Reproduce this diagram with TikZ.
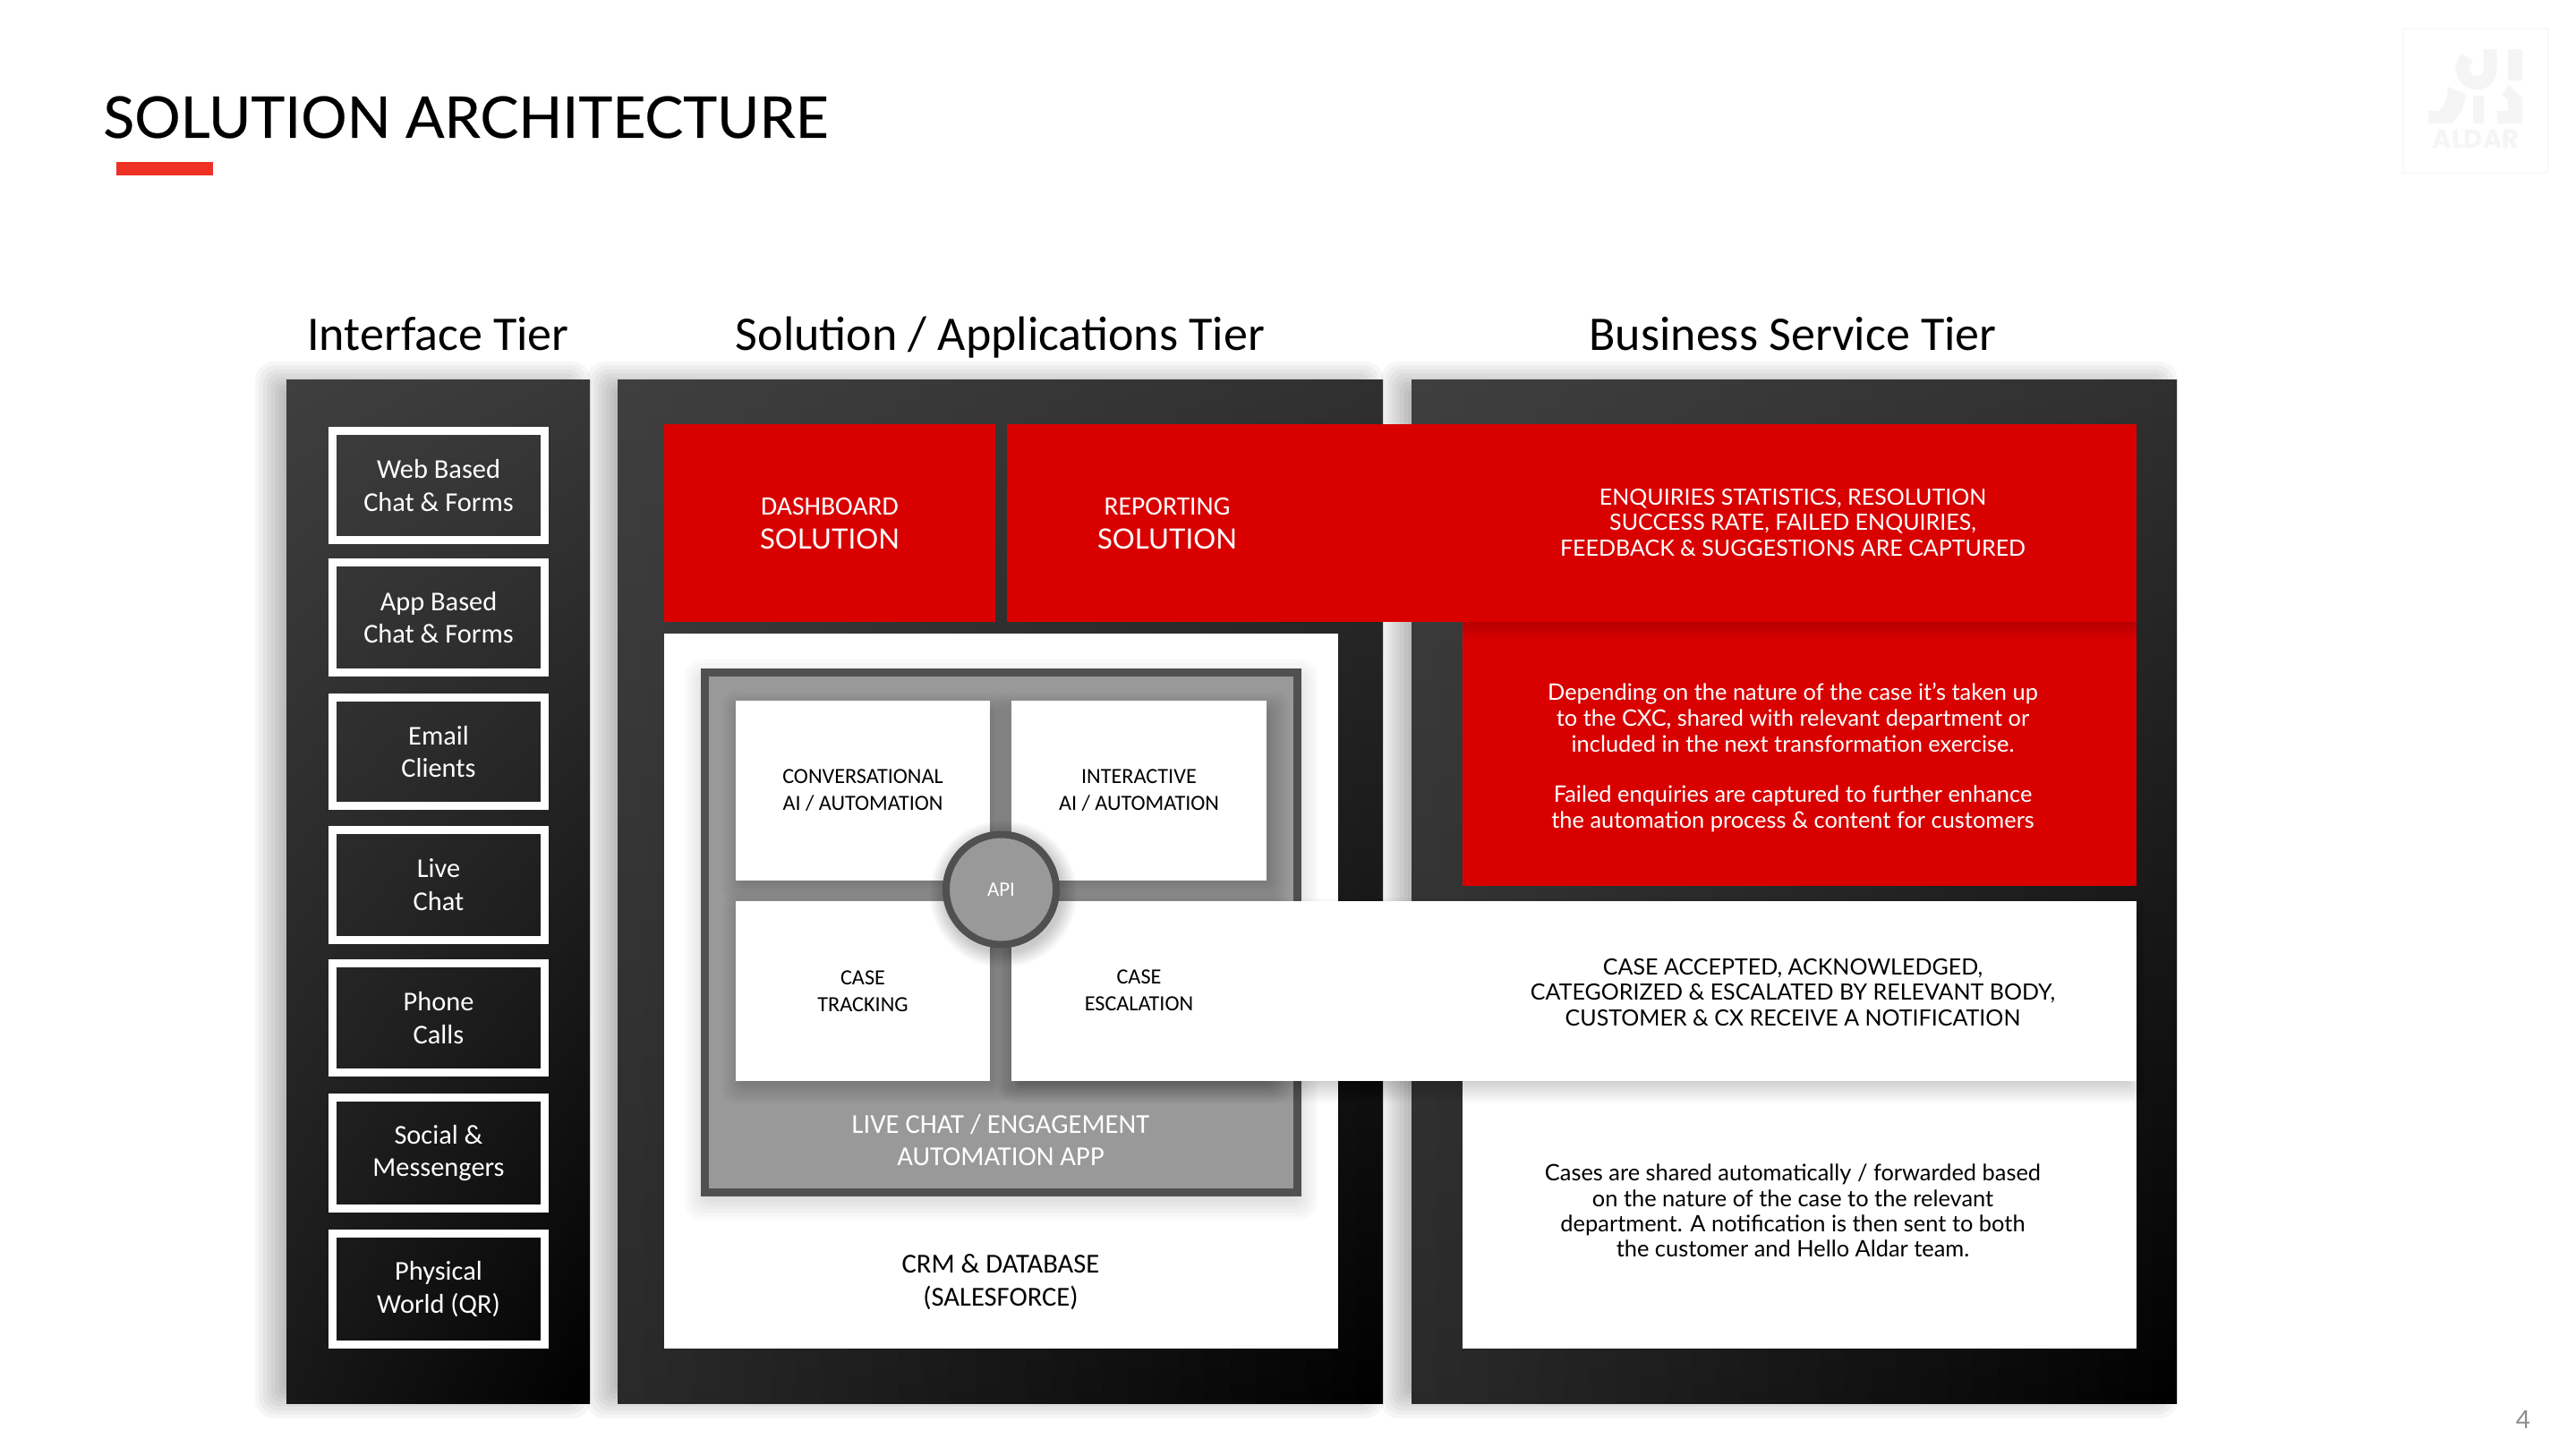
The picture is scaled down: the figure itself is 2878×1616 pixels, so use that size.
\documentclass[tikz,border=0pt]{standalone}
\usepackage{fontspec}
\setmainfont{Carlito}
\newfontfamily\latof{Lato}
\newfontfamily\latoh{Lato}[FakeBold=0.35]
\newfontfamily\popf{Poppins}
\usetikzlibrary{calc}
\definecolor{redmain}{HTML}{D90000}
\definecolor{redbar}{HTML}{EE3124}
\definecolor{greyin}{HTML}{999999}
\definecolor{greyline}{HTML}{505050}
\definecolor{logoc}{HTML}{F5F5F5}
\newcommand\softsh[6]{%
  \foreach \i in {0,...,9}{%
    \pgfmathsetmacro\tt{#5*(\i/9-0.5)}%
    \pgfmathsetmacro\rr{max(0.5,#5*0.5*0.5*(1-\i/9)+0.5)}%
    \fill[black,fill opacity=#6,rounded corners=\rr pt] (#1+\tt,#2+\tt) rectangle (#3-\tt,#4-\tt);
  }}
\newcommand\boxn[7][]{%
  \pgfmathsetmacro\cx{(#4+#6)/2}\pgfmathsetmacro\cy{(#5+#7)/2}%
  \pgfmathsetmacro\ww{(#6-#4)*0.5}\pgfmathsetmacro\hh{(#7-#5)*0.5}%
  \node[boxbase,#3,minimum width=\ww pt,minimum height=\hh pt] (#2) at (\cx,\cy) {#1};}
% bilinear gradient panel: x1 y1 x2 y2, then grey levels TL TR BL BR (0-255)
\newcommand\gradpanel[8]{%
  \foreach \s in {0,...,29}{%
    \pgfmathsetmacro\fa{\s/30}\pgfmathsetmacro\fb{(\s+1)/30}%
    \pgfmathsetmacro\fm{(\s+0.5)/30}%
    \pgfmathsetmacro\gt{(#5+(#6-#5)*\fm)/255}%
    \pgfmathsetmacro\gb{(#7+(#8-#7)*\fm)/255}%
    \pgfmathsetmacro\xa{#1+(#3-#1)*\fa}%
    \pgfmathsetmacro\xb{min(#3,#1+(#3-#1)*\fb+1)}%
    \definecolor{stripT}{gray}{\gt}\definecolor{stripB}{gray}{\gb}%
    \shade[top color=stripT,bottom color=stripB] (\xa,#2) rectangle (\xb,#4);
  }}
\tikzset{
  boxbase/.style={rectangle,inner sep=0pt,outer sep=0pt,align=center},
  tierlabel/.style={font=\fontsize{27}{32}\selectfont,text=black,inner sep=0pt,anchor=base},
  ifacebox/.style={draw=white,line width=4.5pt,text=white,font=\fontsize{15.2}{18.4}\selectfont},
  redbox/.style={fill=redmain,text=white},
  whitebox/.style={fill=white,text=black},
  cellbox/.style={fill=white,text=black,font=\fontsize{12.1}{15}\selectfont},
  bodytext/.style={font=\latof\fontsize{12.7}{14.5}\selectfont,align=center,inner sep=0pt},
  capstext/.style={font=\latof\fontsize{12.5}{14.4}\selectfont,align=center,inner sep=0pt},
  celltext/.style={font=\fontsize{12.1}{15}\selectfont,align=center,inner sep=0pt,text=black},
  midtext/.style={font=\fontsize{15.3}{18.4}\selectfont,align=center,inner sep=0pt},
  headA/.style={font=\fontsize{14.8}{18}\selectfont,text=white,inner sep=0pt},
  headB/.style={font=\latof\fontsize{15.6}{18}\selectfont,text=white,inner sep=0pt},
  logoshape/.style={fill=logoc,draw=none},
}
\begin{document}
\begin{tikzpicture}[x=0.5pt,y=-0.5pt]
\useasboundingbox (0,0) rectangle (2878,1616);
\fill[white] (0,0) rectangle (2878,1616);
% watermark logo
\draw[color=logoc!60,line width=0.7pt] (2685,32) rectangle (2847,193);
\draw[logoc,line width=7.5pt] (2782,55) -- (2782,78) .. controls (2782,98) and (2750,98) .. (2751,74) -- (2756,64);
\fill[logoshape] (2802,55) rectangle (2818,90);
\fill[logoshape] (2735,97) -- (2755,105) .. controls (2752,125) and (2746,132) .. (2738,138) -- (2713,138) -- (2713,124) -- (2725,124) .. controls (2732,118) and (2734,108) .. cycle;
\fill[logoshape] (2763,107) rectangle (2775,138);
\fill[logoshape] (2803,95) -- (2818,110) -- (2818,138) -- (2790,138) -- (2790,124) -- (2802,124) -- (2802,112) -- (2795,105) -- cycle;
\node[font=\popf\bfseries\fontsize{14.5}{16}\selectfont,text=logoc,inner sep=0pt] (logotext) at (2766,155) {ALDAR};
% title
\node[anchor=west,font=\latoh\fontsize{32.1}{36}\selectfont,text=black,inner sep=0pt] (title) at (115,131) {SOLUTION ARCHITECTURE};
\boxn{titlebar}{fill=redbar}{130}{181}{238}{196}
\node[font=\latof\fontsize{14}{16}\selectfont,text=black!45,inner sep=0pt] (pagenum) at (2819,1586) {4};
% tier labels
\node[tierlabel] (tierA) at (489.5,391) {Interface Tier};
\node[tierlabel] (tierB) at (1117.5,391) {Solution / Applications Tier};
\node[tierlabel] (tierC) at (2003,391) {Business Service Tier};
% panel shadows
\softsh{305}{424}{640}{1565}{40}{0.034}
\softsh{675}{424}{1526}{1565}{40}{0.034}
\softsh{1562}{424}{2413}{1565}{40}{0.034}
% panels
\gradpanel{320}{424}{659}{1568}{63}{56}{24}{0}
\gradpanel{690}{424}{1545}{1568}{63}{48}{42}{0}
\gradpanel{1577}{424}{2432}{1568}{63}{48}{42}{0}
\boxn{panelone}{draw=none}{320}{424}{659}{1568}
\boxn{paneltwo}{draw=none}{690}{424}{1545}{1568}
\boxn{panelthree}{draw=none}{1577}{424}{2432}{1568}
% interface boxes
\boxn[Web Based\\Chat \& Forms]{ifA}{ifacebox}{371.5}{481.5}{608.5}{603.5}
\boxn[App Based\\Chat \& Forms]{ifB}{ifacebox}{371.5}{628.5}{608.5}{751.5}
\boxn[Email\\Clients]{ifC}{ifacebox}{371.5}{779.5}{608.5}{900.5}
\boxn[Live\\Chat]{ifD}{ifacebox}{371.5}{927.5}{608.5}{1050}
\boxn[Phone\\Calls]{ifE}{ifacebox}{371.5}{1076.5}{608.5}{1198}
\boxn[Social \&\\Messengers]{ifF}{ifacebox}{371.5}{1226.5}{608.5}{1350.5}
\boxn[Physical\\World (QR)]{ifG}{ifacebox}{371.5}{1378.5}{608.5}{1502.5}
% white CRM area
\boxn{crm}{whitebox}{742}{708}{1495}{1507}
% lower white and lower red in business tier
\boxn{casesbox}{whitebox}{1634}{1208}{2387}{1507}
\boxn{deptbox}{redbox}{1634}{695}{2387}{990}
% shadow of the red band on the lower red box
\begin{scope}
\clip (1634,695) rectangle (2387,990);
\softsh{1634}{600}{2387}{700}{28}{0.022}
\end{scope}
% top red boxes
\boxn{dashbox}{redbox}{742}{474}{1112}{695}
\boxn{reportbox}{redbox}{1125}{474}{2387}{695}
% grey app box
\softsh{783}{755}{1454}{1345}{36}{0.018}
\boxn{appbox}{fill=greyin,draw=greyline,line width=4.5pt}{787.5}{751.5}{1449.5}{1332.5}
% cell shadows
\begin{scope}
\clip (792,756) rectangle (1445.5,1329);
\softsh{822}{788}{1116}{994}{30}{0.022}
\softsh{1130}{788}{1425}{994}{30}{0.022}
\softsh{822}{1012}{1116}{1218}{30}{0.022}
\softsh{1130}{1012}{1425}{1218}{30}{0.022}
\end{scope}
% cells
\boxn[CONVERSATIONAL\\AI / AUTOMATION]{cellA}{cellbox}{822}{783}{1106}{984}
\boxn[INTERACTIVE\\AI / AUTOMATION]{cellB}{cellbox}{1130}{783}{1415}{984}
\boxn[CASE\\TRACKING]{cellC}{cellbox}{822}{1007}{1106}{1208}
% band shadow
\softsh{1130}{1015}{2387}{1220}{24}{0.02}
\boxn{bandbox}{whitebox}{1130}{1007}{2387}{1208}
\node[celltext] (cellD) at (1272.5,1106.5) {CASE\\ESCALATION};
% API
\foreach \rad in {66,68,...,82}{\fill[black,fill opacity=0.022] (1121,999) circle[radius=\rad];}
\node[circle,fill=greyin,draw=greyline,line width=4pt,minimum size=61.5pt,inner sep=0pt,outer sep=0pt,text=white,font=\fontsize{11.5}{14}\selectfont] (api) at (1118.5,994) {API};
% texts
\node[midtext,text=white] (appt) at (1118,1274) {LIVE CHAT / ENGAGEMENT\\AUTOMATION APP};
\node[midtext,text=black] (crmt) at (1118,1433) {CRM \& DATABASE\\(SALESFORCE)};
\node[headA] (dashA) at (927,566) {DASHBOARD};
\node[headB] (dashB) at (927,602) {SOLUTION};
\node[headA] (repA) at (1304,566) {REPORTING};
\node[headB] (repB) at (1304,602) {SOLUTION};
\node[capstext,text=white] (enqt) at (2003,584) {ENQUIRIES STATISTICS, RESOLUTION\\SUCCESS RATE, FAILED ENQUIRIES,\\FEEDBACK \& SUGGESTIONS ARE CAPTURED};
\node[bodytext,text=white] (deptt) at (2003,846) {Depending on the nature of the case it’s taken up\\to the CXC, shared with relevant department or\\included in the next transformation exercise.\\[13.5pt]Failed enquiries are captured to further enhance\\the automation process \& content for customers};
\node[capstext,text=black] (bandt) at (2003,1109) {CASE ACCEPTED, ACKNOWLEDGED,\\CATEGORIZED \& ESCALATED BY RELEVANT BODY,\\CUSTOMER \& CX RECEIVE A NOTIFICATION};
\node[bodytext,text=black,font=\latof\fontsize{12.7}{14.1}\selectfont] (casest) at (2003,1353) {Cases are shared automatically / forwarded based\\on the nature of the case to the relevant\\department. A notification is then sent to both\\the customer and Hello Aldar team.};
\end{tikzpicture}
\end{document}
